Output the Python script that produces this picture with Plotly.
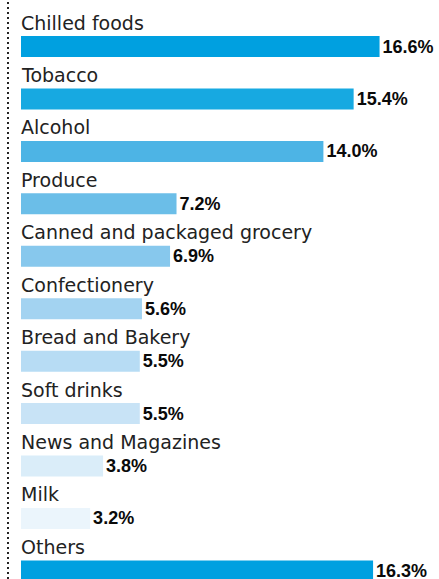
import plotly.graph_objects as go

# Share of sales by product category (%)
categories = [
    "Chilled foods", "Tobacco", "Alcohol", "Produce",
    "Canned and packaged grocery", "Confectionery", "Bread and Bakery",
    "Soft drinks", "News and Magazines", "Milk", "Others",
]
shares = [16.6, 15.4, 14.0, 7.2, 6.9, 5.6, 5.5, 5.5, 3.8, 3.2, 16.3]
bar_colors = [
    "#00A0E0", "#17A9E1", "#4DB4E5", "#6BBEE8", "#87C8ED", "#A3D3F1",
    "#B7DCF4", "#C8E3F6", "#DAEDF9", "#EBF5FC", "#00A0E0",
]

fig = go.Figure(
    go.Bar(
        x=shares,
        y=categories,
        orientation="h",
        width=0.4,
        marker=dict(color=bar_colors, line=dict(width=0)),
        text=[f"{v:.1f}%" for v in shares],
        textposition="outside",
        constraintext="none",
        cliponaxis=False,
        textfont=dict(family="Liberation Sans", size=18, color="#0a0a0a",
                      weight="bold"),
        hoverinfo="skip",
    )
)

# Category names sit just above each bar
for cat in categories:
    fig.add_annotation(
        x=0, y=cat, xref="x", yref="y",
        text=cat, showarrow=False,
        xanchor="left", yanchor="middle",
        xshift=-2, yshift=24,
        font=dict(family="DejaVu Sans", size=19, color="#222222"),
    )

# Dotted rule down the left edge
fig.add_shape(
    type="line", xref="paper", yref="paper",
    x0=0, x1=0, y0=0, y1=1,
    line=dict(color="#222222", width=2, dash="2px,3px"),
)

fig.update_layout(
    width=439, height=579,
    margin=dict(l=8, r=0, t=0, b=0),
    paper_bgcolor="white", plot_bgcolor="white",
    showlegend=False,
    xaxis=dict(range=[-0.602, 19.352], visible=False, fixedrange=True),
    yaxis=dict(type="category", range=[10.154, -0.887], visible=False,
               fixedrange=True),
)

fig.write_html("out.html")
